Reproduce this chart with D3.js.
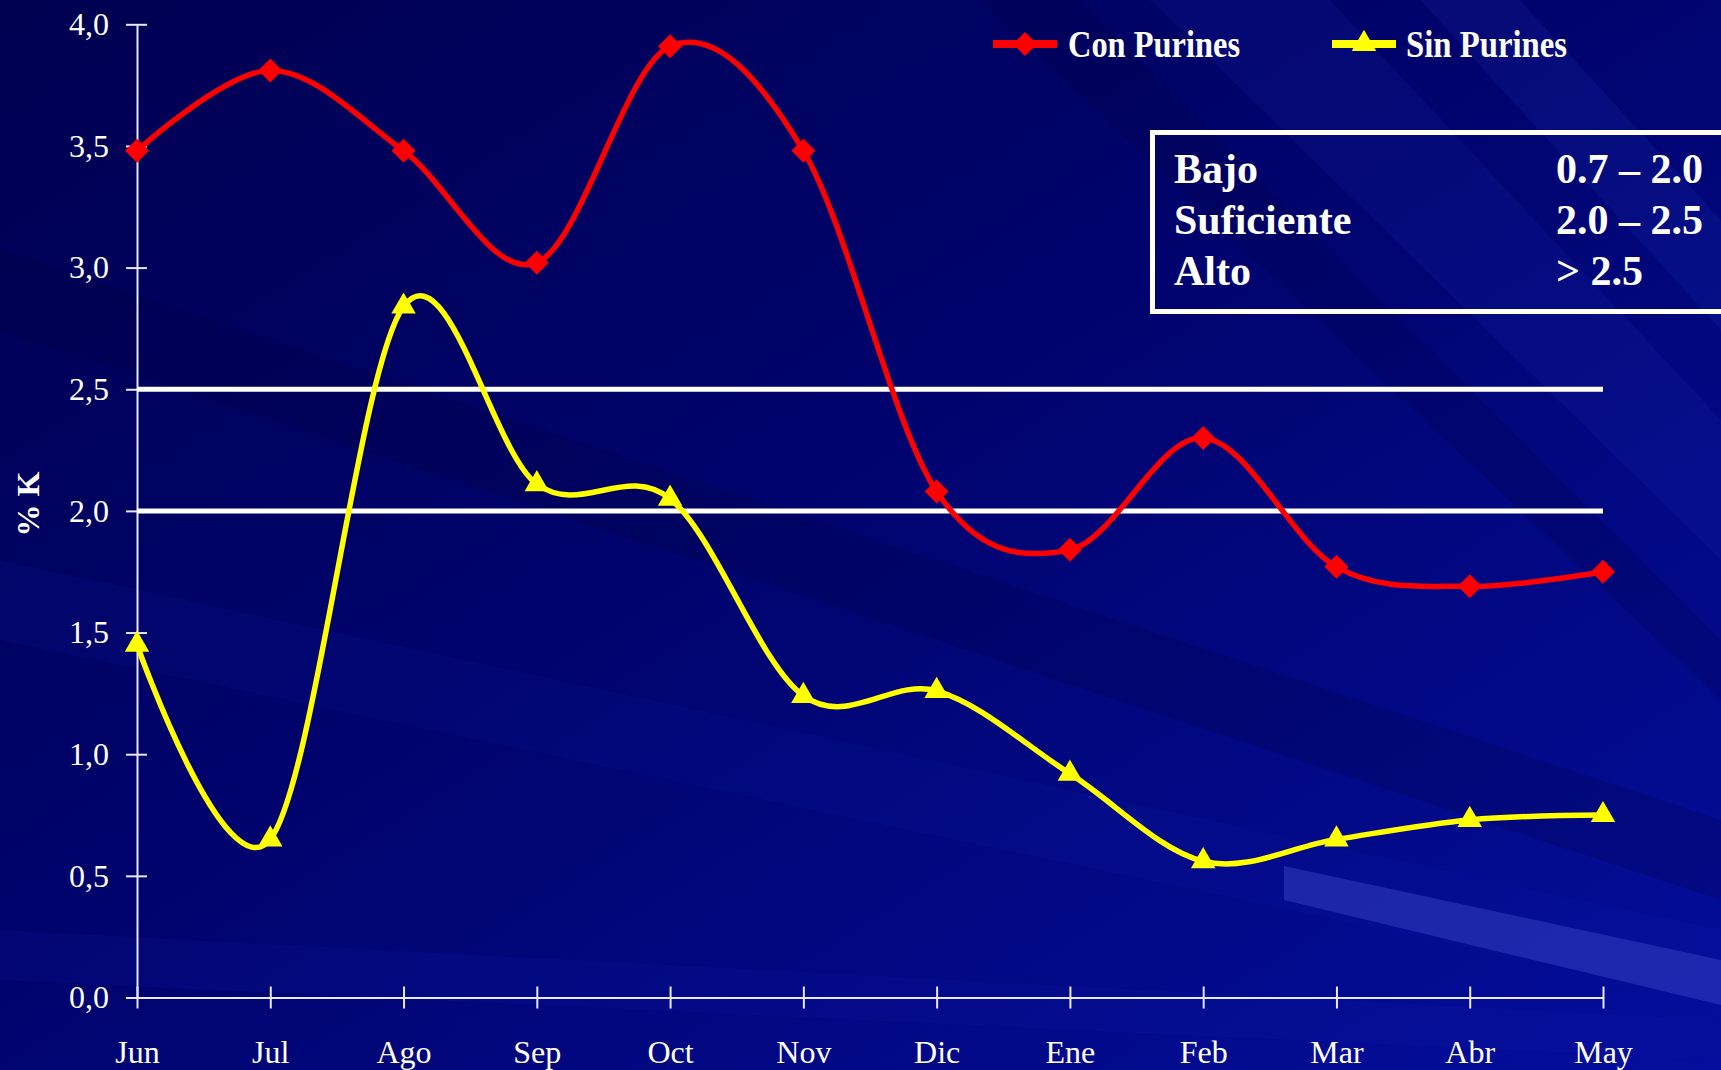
<!DOCTYPE html>
<html>
<head>
<meta charset="utf-8">
<script src="https://cdn.jsdelivr.net/npm/d3@7"></script>
<style>
  html, body { margin: 0; padding: 0; background: #000066; }
  svg { display: block; }
</style>
</head>
<body>
<div id="main"></div>
<script>
// months on the x axis
const months = ['Jun', 'Jul', 'Ago', 'Sep', 'Oct', 'Nov', 'Dic', 'Ene', 'Feb', 'Mar', 'Abr', 'May'];
// % K
const conPurines = [3.48, 3.81, 3.48, 3.02, 3.91, 3.48, 2.08, 1.84, 2.30, 1.77, 1.69, 1.75];
const sinPurines = [1.45, 0.65, 2.84, 2.11, 2.05, 1.24, 1.26, 0.92, 0.56, 0.65, 0.73, 0.75];
const yTicks = [0, 0.5, 1, 1.5, 2, 2.5, 3, 3.5, 4];
const limits = [2.0, 2.5];
const ranges = [['Bajo', '0.7 – 2.0'], ['Suficiente', '2.0 – 2.5'], ['Alto', '> 2.5']];

const w = 1721;
const h = 1070;

const svg = d3.select('#main')
    .append('svg')
    .attr('width', w)
    .attr('height', h);

// background gradient + streaks
const defs = svg.append('defs');
const grad = defs.append('linearGradient')
    .attr('id', 'bg')
    .attr('x1', '0').attr('y1', '0')
    .attr('x2', '1').attr('y2', '1');
grad.append('stop').attr('offset', '0%').attr('stop-color', '#000050');
grad.append('stop').attr('offset', '45%').attr('stop-color', '#00036c');
grad.append('stop').attr('offset', '100%').attr('stop-color', '#040e9c');

svg.append('rect')
    .attr('width', w).attr('height', h)
    .attr('fill', 'url(#bg)');

const streaks = [
    { pts: [[1150, 0], [1330, 0], [1721, 420], [1721, 560]], c: 'rgba(40,60,200,0.12)' },
    { pts: [[1420, 0], [1520, 0], [1721, 220], [1721, 330]], c: 'rgba(50,70,210,0.12)' },
    { pts: [[980, 0], [1080, 0], [1721, 640], [1721, 700]], c: 'rgba(0,0,60,0.2)' },
    { pts: [[0, 250], [0, 330], [1721, 900], [1721, 820]], c: 'rgba(0,0,50,0.18)' },
    { pts: [[0, 560], [0, 640], [1721, 1000], [1721, 930]], c: 'rgba(20,30,170,0.12)' },
    { pts: [[0, 930], [0, 980], [1721, 1060], [1721, 1020]], c: 'rgba(20,30,170,0.15)' },
    { pts: [[1284, 866], [1284, 900], [1721, 1005], [1721, 960]], c: 'rgba(90,100,230,0.3)' }
];
svg.append('g').selectAll('polygon')
    .data(streaks)
    .enter()
    .append('polygon')
    .attr('points', d => d.pts.map(p => p.join(',')).join(' '))
    .attr('fill', d => d.c);

const x = d3.scalePoint()
    .domain(months)
    .range([137, 1603]);

const y = d3.scaleLinear()
    .domain([0, 4])
    .range([997.5, 24.3]);

const fmt = d => d3.format('.1f')(d).replace('.', ',');

// y axis
const yAxis = svg.append('g')
    .attr('transform', `translate(${x(months[0])},0)`)
    .call(d3.axisLeft(y).tickValues(yTicks).tickFormat(fmt).tickSize(0).tickPadding(28));
yAxis.select('.domain').attr('stroke', '#e8e8f4').attr('stroke-width', 2);
yAxis.selectAll('text')
    .attr('fill', '#ffffff')
    .attr('font-family', '"Liberation Serif", "Times New Roman", serif')
    .attr('font-size', 32);
yAxis.selectAll('.tick').append('line')
    .attr('x1', -11).attr('x2', 10)
    .attr('stroke', '#e8e8f4').attr('stroke-width', 2);

// x axis
const xAxis = svg.append('g')
    .attr('transform', `translate(0,${y(0)})`)
    .call(d3.axisBottom(x).tickSize(0).tickPadding(65));
xAxis.select('.domain').attr('stroke', '#e8e8f4').attr('stroke-width', 2);
xAxis.selectAll('text')
    .attr('fill', '#ffffff')
    .attr('font-family', '"Liberation Serif", "Times New Roman", serif')
    .attr('font-size', 32)
    .attr('dy', 0);
xAxis.selectAll('.tick').append('line')
    .attr('y1', -11).attr('y2', 11)
    .attr('stroke', '#e8e8f4').attr('stroke-width', 2);

// y title
svg.append('text')
    .attr('transform', `translate(39,504) rotate(-90)`)
    .attr('text-anchor', 'middle')
    .attr('fill', '#ffffff')
    .attr('font-family', '"Liberation Serif", "Times New Roman", serif')
    .attr('font-weight', 'bold')
    .attr('font-size', 32)
    .text('% K');

// limit lines
svg.append('g').selectAll('line')
    .data(limits)
    .enter()
    .append('line')
    .attr('x1', x(months[0]))
    .attr('x2', x(months[months.length - 1]))
    .attr('y1', d => y(d))
    .attr('y2', d => y(d))
    .attr('stroke', '#ffffff')
    .attr('stroke-width', 5);

const line = d3.line()
    .x((d, i) => x(months[i]))
    .y(d => y(d))
    .curve(d3.curveCatmullRom.alpha(0));

const diamond = 'M0,-12L12,0L0,12L-12,0Z';
const triangle = d3.symbol().type(d3.symbolTriangle).size(260)();

const series = [
    { name: 'Con Purines', values: conPurines, color: '#ff0000', marker: diamond, lx: 993, tx: 1068, tl: 172 },
    { name: 'Sin Purines', values: sinPurines, color: '#ffff00', marker: triangle, lx: 1332, tx: 1406, tl: 161 }
];

series.forEach(s => {
    svg.append('path')
        .datum(s.values)
        .attr('d', line)
        .attr('fill', 'none')
        .attr('stroke', s.color)
        .attr('stroke-width', 5.5)
        .attr('stroke-linejoin', 'round');

    svg.append('g').selectAll('path')
        .data(s.values)
        .enter()
        .append('path')
        .attr('d', s.marker)
        .attr('transform', (d, i) => `translate(${x(months[i])},${y(d)})`)
        .attr('fill', s.color);

    // legend
    svg.append('line')
        .attr('x1', s.lx).attr('x2', s.lx + 64)
        .attr('y1', 44).attr('y2', 44)
        .attr('stroke', s.color)
        .attr('stroke-width', 8);
    svg.append('path')
        .attr('d', s.marker)
        .attr('transform', `translate(${s.lx + 32},44)`)
        .attr('fill', s.color);
    svg.append('text')
        .attr('x', s.tx)
        .attr('y', 57)
        .attr('fill', '#ffffff')
        .attr('font-family', '"Liberation Serif", "Times New Roman", serif')
        .attr('font-weight', 'bold')
        .attr('font-size', 37)
        .attr('textLength', s.tl)
        .attr('lengthAdjust', 'spacingAndGlyphs')
        .text(s.name);
});

// ranges box
svg.append('rect')
    .attr('x', 1152.5).attr('y', 132.5)
    .attr('width', 600).attr('height', 179)
    .attr('fill', 'none')
    .attr('stroke', '#ffffff')
    .attr('stroke-width', 5);

const rows = svg.append('g').selectAll('g')
    .data(ranges)
    .enter()
    .append('g')
    .attr('transform', (d, i) => `translate(0,${183 + i * 51})`)
    .attr('fill', '#ffffff')
    .attr('font-family', '"Liberation Serif", "Times New Roman", serif')
    .attr('font-weight', 'bold')
    .attr('font-size', 42);
rows.append('text').attr('x', 1174).text(d => d[0]);
rows.append('text').attr('x', 1556).text(d => d[1]);
</script>
</body>
</html>
